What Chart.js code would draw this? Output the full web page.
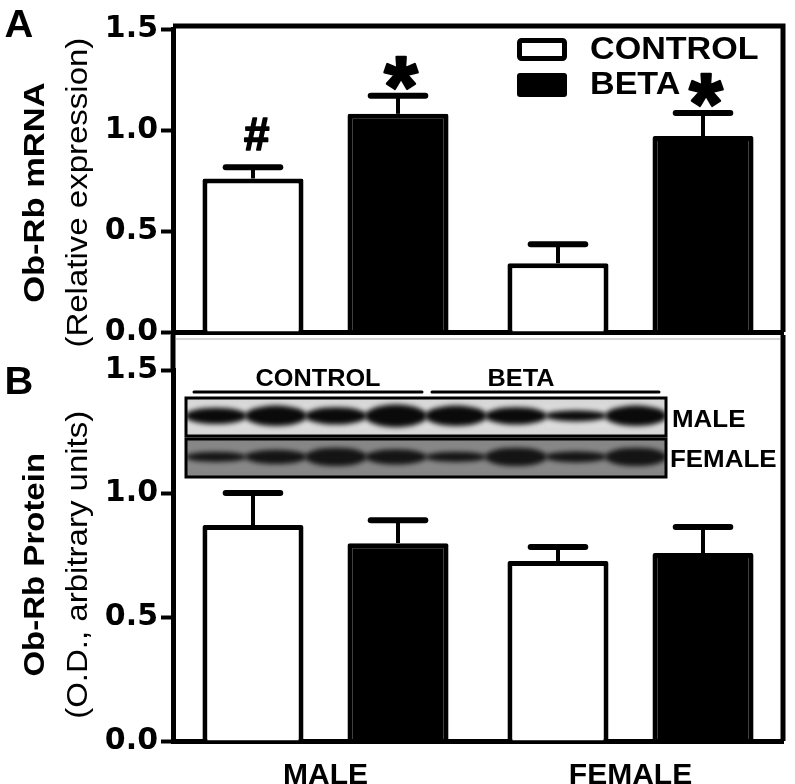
<!DOCTYPE html>
<html>
<head>
<meta charset="utf-8">
<script src="https://cdn.jsdelivr.net/npm/chart.js@4.4.1/dist/chart.umd.min.js"></script>
<style>
body{margin:0;background:#fff;}
#wrap{position:relative;width:795px;height:784px;overflow:hidden;}
canvas{position:absolute;left:0;}
#chartA{top:0;}
#chartB{top:335px;}
</style>
</head>
<body>
<div id="wrap">
<canvas id="chartA" width="795" height="370"></canvas>
<canvas id="chartB" width="795" height="449"></canvas>
</div>
<script>
// categories and series
var groups = ['MALE', 'FEMALE'];
var seriesNames = ['CONTROL', 'BETA'];
var yTicks = [0, 0.5, 1.0, 1.5];

// panel A - Ob-Rb mRNA (relative expression)
var mrnaControl = [0.76, 0.34];
var mrnaBeta = [1.08, 0.97];
var mrnaControlErr = [0.055, 0.094];
var mrnaBetaErr = [0.09, 0.114];
var mrnaControlMark = ['#', ''];
var mrnaBetaMark = ['*', '*'];

// panel B - Ob-Rb protein (O.D.)
var protControl = [0.873, 0.728];
var protBeta = [0.80, 0.76];
var protControlErr = [0.13, 0.056];
var protBetaErr = [0.093, 0.105];

// western blot inset, band strength per lane (4 control, 4 beta)
var blotMale = [0.8, 1.0, 0.85, 1.1, 1.0, 0.85, 0.55, 1.0];
var blotFemale = [0.5, 0.7, 0.9, 0.75, 0.5, 0.9, 0.55, 0.9];

var FONT = '"Liberation Sans", Arial, sans-serif';
var TICKFONT = '"DejaVu Sans", "Liberation Sans", sans-serif';

function putText(ctx, txt, x, y, font, sx, rot, align) {
	ctx.save();
	ctx.translate(x, y);
	if (rot) ctx.rotate(rot);
	ctx.scale(sx, 1);
	ctx.font = font;
	ctx.textAlign = align || 'center';
	ctx.textBaseline = 'middle';
	ctx.fillStyle = '#000';
	ctx.fillText(txt, 0, 0);
	ctx.restore();
}

//error bars + significance marks
function errorBars(errs, marks) {
	return {
		id: 'errbars',
		afterDatasetsDraw: function (chart) {
			var ctx = chart.ctx, y = chart.scales.y;
			chart.data.datasets.forEach(function (ds, di) {
				var meta = chart.getDatasetMeta(di);
				meta.data.forEach(function (bar, i) {
					var top = y.getPixelForValue(ds.data[i]);
					var capY = y.getPixelForValue(ds.data[i] + errs[di][i]);
					var half = bar.width * 0.27;
					ctx.save();
					ctx.strokeStyle = '#000';
					ctx.lineWidth = 4;
					ctx.beginPath(); ctx.moveTo(bar.x, top); ctx.lineTo(bar.x, capY); ctx.stroke();
					ctx.lineWidth = 6; ctx.lineCap = 'round';
					ctx.beginPath(); ctx.moveTo(bar.x - half, capY); ctx.lineTo(bar.x + half, capY); ctx.stroke();
					ctx.restore();
					var m = marks ? marks[di][i] : '';
					if (!m) return;
					ctx.save();
					ctx.fillStyle = '#000';
					ctx.strokeStyle = '#000';
					ctx.lineJoin = 'round';
					ctx.textAlign = 'center';
					if (m == '#') {
						ctx.font = 'italic bold 46px ' + FONT;
						ctx.textBaseline = 'middle';
						ctx.lineWidth = 1.5;
						ctx.fillText('#', bar.x + 3, capY - 30);
						ctx.strokeText('#', bar.x + 3, capY - 30);
					} else {
						ctx.font = 'bold 86px ' + FONT;
						ctx.textBaseline = 'alphabetic';
						ctx.lineWidth = 2.5;
						ctx.fillText('*', bar.x + 3, capY - 21 + 0.48 * 86);
						ctx.strokeText('*', bar.x + 3, capY - 21 + 0.48 * 86);
					}
					ctx.restore();
				});
			});
		}
	};
}

function frameA() {
	return {
		id: 'frameA',
		afterDraw: function (chart) {
			var ctx = chart.ctx, a = chart.chartArea;
			ctx.save();
			ctx.strokeStyle = '#000';
			ctx.lineWidth = 5;
			ctx.beginPath();
			ctx.moveTo(a.left, a.top - 3);
			ctx.lineTo(a.right, a.top - 3);
			ctx.lineTo(a.right, a.bottom);
			ctx.stroke();
			ctx.restore();
			// axis title
			var cy = a.top + (a.bottom - a.top) * 0.54;
			putText(ctx, 'Ob-Rb mRNA', 36, cy, 'bold 30px ' + FONT, 1.15, -Math.PI / 2);
			putText(ctx, '(Relative expression)', 79, cy, '30px ' + FONT, 1.1, -Math.PI / 2);
			putText(ctx, 'A', 19, 27, 'bold 38px ' + FONT, 1.05, 0);
			// legend
			ctx.save();
			ctx.fillStyle = '#fff';
			ctx.strokeStyle = '#000';
			ctx.lineWidth = 5;
			ctx.beginPath(); ctx.roundRect(519.5, 40.5, 45, 18, 2); ctx.fill(); ctx.stroke();
			ctx.fillStyle = '#000';
			ctx.beginPath(); ctx.roundRect(517, 73, 50, 24, 3); ctx.fill();
			ctx.restore();
			putText(ctx, seriesNames[0], 590, 50, 'bold 31px ' + FONT, 1.1, 0, 'left');
			putText(ctx, seriesNames[1], 590, 85, 'bold 31px ' + FONT, 1.1, 0, 'left');
		}
	};
}

function drawBlot(ctx, x, y, w, h, bg, edge, bands, bandColor) {
	ctx.save();
	ctx.beginPath(); ctx.rect(x, y, w, h); ctx.clip();
	var g = ctx.createLinearGradient(0, y, 0, y + h);
	g.addColorStop(0, edge); g.addColorStop(0.5, bg); g.addColorStop(1, edge);
	ctx.fillStyle = g; ctx.fillRect(x, y, w, h);
	ctx.filter = 'blur(2.5px)';
	var lane = w / bands.length;
	bands.forEach(function (b, i) {
		var cx = x + lane * (i + 0.5);
		ctx.fillStyle = bandColor;
		ctx.beginPath();
		ctx.ellipse(cx, y + h * 0.47, lane * 0.52, h * 0.27 * b, 0, 0, Math.PI * 2);
		ctx.fill();
	});
	ctx.filter = 'none';
	ctx.restore();
	ctx.save();
	ctx.lineWidth = 3; ctx.strokeStyle = '#000';
	ctx.strokeRect(x, y, w, h);
	ctx.restore();
}

function frameB() {
	return {
		id: 'frameB',
		afterDraw: function (chart) {
			var ctx = chart.ctx, a = chart.chartArea;
			ctx.save();
			ctx.strokeStyle = '#000';
			ctx.lineWidth = 5;
			ctx.beginPath();
			ctx.moveTo(a.left, 0); ctx.lineTo(a.left, a.top);
			ctx.moveTo(a.right, 0); ctx.lineTo(a.right, a.bottom);
			ctx.stroke();
			ctx.strokeStyle = '#c8c8c8';
			ctx.lineWidth = 1.5;
			ctx.beginPath(); ctx.moveTo(a.left + 3, 4); ctx.lineTo(a.right - 3, 4); ctx.stroke();
			ctx.restore();
			var cy = a.top + (a.bottom - a.top) * 0.525;
			putText(ctx, 'Ob-Rb Protein', 36, cy, 'bold 30px ' + FONT, 1.1, -Math.PI / 2);
			putText(ctx, '(O.D., arbitrary units)', 79, cy, '30px ' + FONT, 1.1, -Math.PI / 2);
			putText(ctx, 'B', 19, 49, 'bold 38px ' + FONT, 1.05, 0);
			// blot inset
			var bx = a.left + 13, bw = 480;
			drawBlot(ctx, bx, a.top + 28, bw, 38, '#e4e4e4', '#d4d4d4', blotMale, '#0a0a0a');
			drawBlot(ctx, bx, a.top + 69, bw, 38, '#8a8a8a', '#858585', blotFemale, '#141414');
			ctx.save();
			ctx.strokeStyle = '#000'; ctx.lineWidth = 3; ctx.lineCap = 'round';
			ctx.beginPath();
			ctx.moveTo(bx + 8, a.top + 22); ctx.lineTo(bx + 236, a.top + 22);
			ctx.moveTo(bx + 246, a.top + 22); ctx.lineTo(bx + 473, a.top + 22);
			ctx.stroke();
			ctx.restore();
			putText(ctx, seriesNames[0], bx + 132, a.top + 10, 'bold 23px ' + FONT, 1.1, 0);
			putText(ctx, seriesNames[1], bx + 335, a.top + 10, 'bold 23px ' + FONT, 1.1, 0);
			putText(ctx, groups[0], bx + 486, a.top + 50, 'bold 24px ' + FONT, 1.08, 0, 'left');
			putText(ctx, groups[1], bx + 484, a.top + 90, 'bold 24px ' + FONT, 1.08, 0, 'left');
		}
	};
}

function yScale(width) {
	return {
		min: 0, max: 1.5,
		afterBuildTicks: function (scale) { scale.ticks = yTicks.map(function (v) { return {value: v}; }); },
		afterFit: function (scale) { scale.width = width; },
		border: {width: 5, color: '#000'},
		grid: {drawOnChartArea: false, tickLength: 12, tickWidth: 4, tickColor: '#000'},
		ticks: {
			color: '#000', padding: 3,
			font: {family: TICKFONT, weight: 'bold', size: 30},
			callback: function (v) { return Number(v).toFixed(1); }
		}
	};
}

function makeChart(id, ctrl, beta, padTop, xHeight, showX, plugins) {
	return new Chart(document.getElementById(id), {
		type: 'bar',
		data: {
			labels: groups,
			datasets: [
				{label: seriesNames[0], data: ctrl, backgroundColor: '#fff', borderColor: '#000', borderWidth: 5, borderRadius: 2,
					barPercentage: 0.697, categoryPercentage: 0.951},
				{label: seriesNames[1], data: beta, backgroundColor: '#000', borderColor: '#000', borderWidth: 5, borderRadius: 2,
					barPercentage: 0.697, categoryPercentage: 0.951}
			]
		},
		options: {
			responsive: false,
			animation: false,
			events: [],
			layout: {padding: {left: 0, right: 12, top: padTop, bottom: 0}},
			plugins: {legend: {display: false}, tooltip: {enabled: false}},
			scales: {
				x: {
					afterFit: function (scale) { scale.height = xHeight; },
					border: {width: 5, color: '#000'},
					grid: {display: false, drawTicks: false},
					ticks: {display: showX, color: '#000', padding: 17, font: {family: FONT, weight: 'bold', size: 30}}
				},
				y: yScale(173)
			}
		},
		plugins: plugins
	});
}

makeChart('chartA', mrnaControl, mrnaBeta, 29, 38, false,
	[errorBars([mrnaControlErr, mrnaBetaErr], [mrnaControlMark, mrnaBetaMark]), frameA()]);
makeChart('chartB', protControl, protBeta, 35, 43, true,
	[errorBars([protControlErr, protBetaErr], null), frameB()]);
</script>
</body>
</html>
